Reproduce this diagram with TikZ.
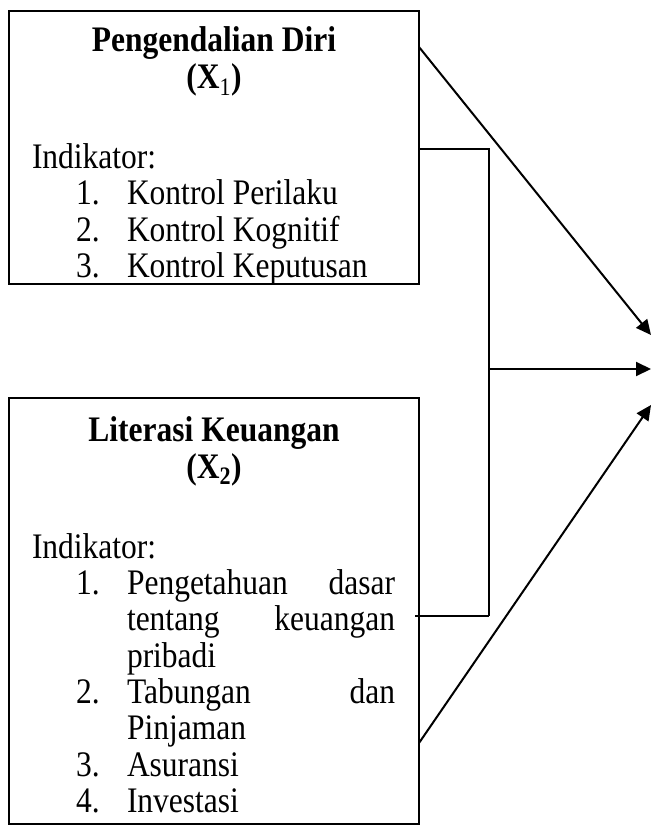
\documentclass[tikz,border=0pt]{standalone}
\usepackage{graphicx}
\usepackage{fontspec}
\setmainfont{Liberation Serif}
\usetikzlibrary{arrows.meta}
\newcommand\vst[1]{\scalebox{1}[1.14]{#1}}
\begin{document}
\begin{tikzpicture}[x=1pt,y=-1pt,
  box/.style={draw=black,line width=2.2pt,minimum width=410pt,inner sep=0pt,outer sep=0pt},
  txt/.style={inner sep=0pt,outer sep=0pt,font=\fontsize{31.5}{36}\selectfont},
  ttl/.style={txt,font=\fontsize{31.5}{36}\selectfont\bfseries,anchor=base},
  lw/.style={txt,anchor=base west},
  le/.style={txt,anchor=base east},
  conn/.style={draw=black,line width=2pt},
  arr/.style={conn,-{Triangle[length=15pt,width=14pt]}}]
\useasboundingbox (0,0) rectangle (651,826);
% boxes
\node[box,minimum height=273pt] (b1) at (214,147.5) {};
\node[box,minimum height=426pt] (b2) at (214,611) {};
% box 1 text
\node[ttl] (t1a) at (214,52) {\vst{Pengendalian Diri}};
\node[ttl] (t1b) at (214,89) {\vst{(X\textsubscript{\normalfont 1})}};
\node[lw] (i1) at (32,169) {\vst{Indikator:}};
\node[lw] (n11) at (76,205) {\vst{1.}};
\node[lw] (k11) at (127,205) {\vst{Kontrol Perilaku}};
\node[lw] (n12) at (76,241) {\vst{2.}};
\node[lw] (k12) at (127,241) {\vst{Kontrol Kognitif}};
\node[lw] (n13) at (76,277) {\vst{3.}};
\node[lw] (k13) at (127,277) {\vst{Kontrol Keputusan}};
% box 2 text
\node[ttl] (t2a) at (214,441) {\vst{Literasi Keuangan}};
\node[ttl] (t2b) at (214,478) {\vst{(X\textsubscript{2})}};
\node[lw] (i2) at (32,558) {\vst{Indikator:}};
\node[lw] (n21) at (76,594.5) {\vst{1.}};
\node[lw] (w1) at (127,594.5) {\vst{Pengetahuan}};
\node[le] (w2) at (395,594.5) {\vst{dasar}};
\node[lw] (w3) at (127,630.8) {\vst{tentang}};
\node[le] (w4) at (395,630.8) {\vst{keuangan}};
\node[lw] (w5) at (127,667.1) {\vst{pribadi}};
\node[lw] (n22) at (76,703.4) {\vst{2.}};
\node[lw] (w6) at (127,703.4) {\vst{Tabungan}};
\node[le] (w7) at (395,703.4) {\vst{dan}};
\node[lw] (w8) at (127,739.7) {\vst{Pinjaman}};
\node[lw] (n23) at (76,776) {\vst{3.}};
\node[lw] (w9) at (127,776) {\vst{Asuransi}};
\node[lw] (n24) at (76,812.3) {\vst{4.}};
\node[lw] (w10) at (127,812.3) {\vst{Investasi}};
% connector points
\coordinate (a1) at (b1.east |- 0,47);
\coordinate (a2) at (b1.east |- 0,149);
\coordinate (a3) at (415,616);
\coordinate (a4) at (b2.east |- 0,743);
\coordinate (j1) at (489,149);
\coordinate (j2) at (489,616);
\coordinate (jm) at (489,369);
\coordinate (y1) at (651,335);
\coordinate (y2) at (651,369);
\coordinate (y3) at (651,405);
% connectors
\draw[arr] (a1) -- (y1);
\draw[conn] (a2) -- (j1) -- (j2);
\draw[conn,line width=2.6pt] (a3) -- (j2);
\draw[arr] (jm) -- (y2);
\draw[arr] (a4) -- (y3);
\end{tikzpicture}
\end{document}
